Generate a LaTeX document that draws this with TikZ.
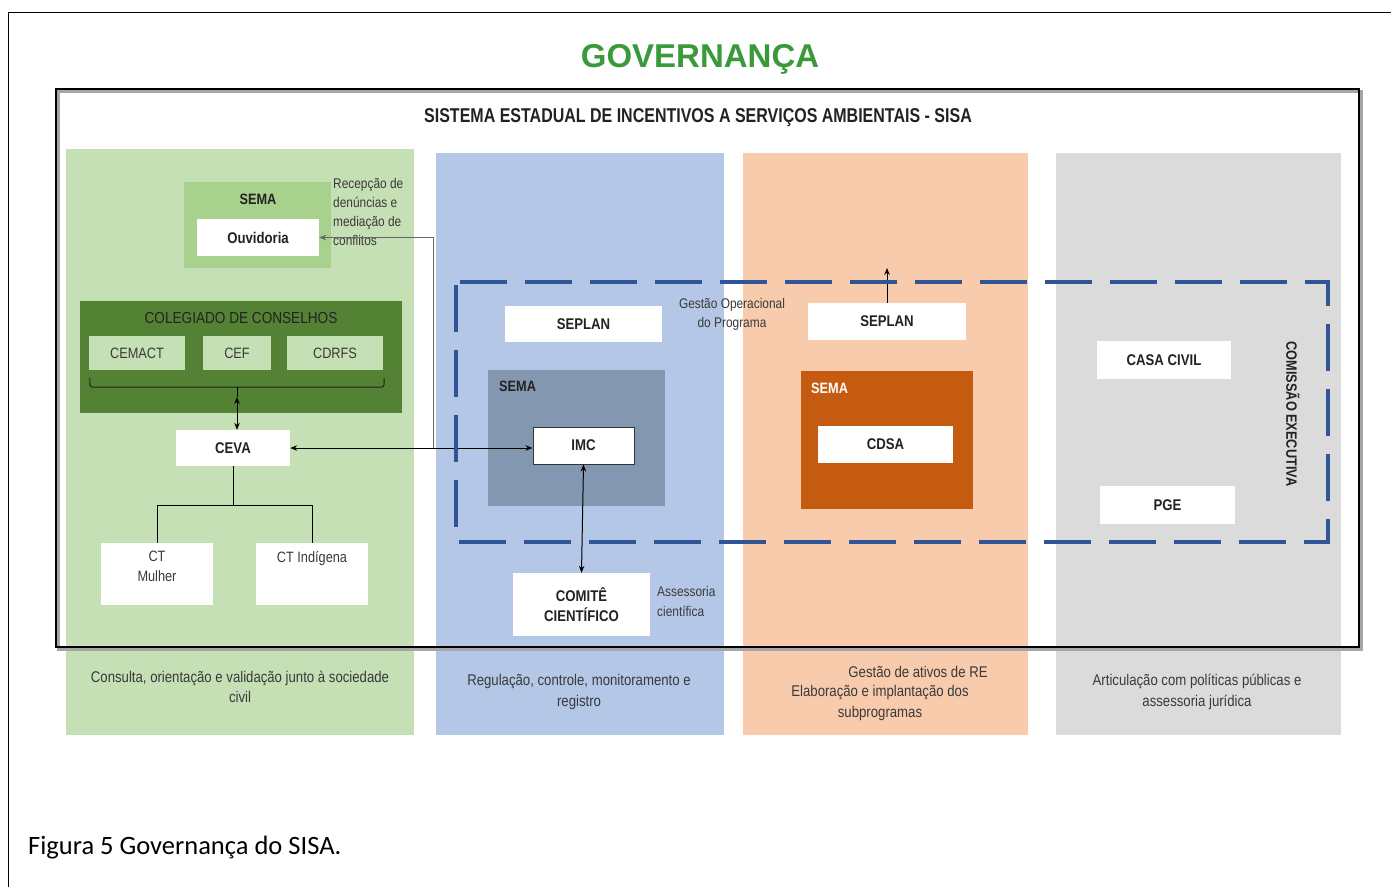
\documentclass[tikz,border=0pt]{standalone}
\usepackage{fontspec}
\setmainfont{Liberation Sans}
\newfontfamily\cnd[FakeStretch=0.85]{Liberation Sans}
\newfontfamily\cndt[FakeStretch=0.8]{Liberation Sans}
\newfontfamily\capfont{Carlito}
\usetikzlibrary{arrows.meta,calc}
\newcommand\myfs[2]{\fontsize{#1}{#2}\selectfont}
\definecolor{colG}{HTML}{C5E0B4}
\definecolor{colGm}{HTML}{A9D18E}
\definecolor{colGd}{HTML}{548235}
\definecolor{colB}{HTML}{B4C7E7}
\definecolor{colBd}{HTML}{8497B0}
\definecolor{colO}{HTML}{F8CBAD}
\definecolor{colOd}{HTML}{C55A11}
\definecolor{colGr}{HTML}{DBDBDB}
\definecolor{dashblue}{HTML}{2F5597}
\definecolor{titlegreen}{RGB}{58,154,58}
\definecolor{txt}{HTML}{222222}
\definecolor{txtl}{HTML}{3A3A3A}
\tikzset{
  colbox/.style={draw=none,inner sep=0pt},
  wbox/.style={fill=white,draw=none,inner sep=0pt,text=txt,font=\cnd\bfseries\myfs{15.5}{18},align=center},
  lbox/.style={fill=colG,draw=none,inner sep=0pt,text=txtl,font=\cnd\myfs{15}{18}},
  plain/.style={inner sep=0pt,text=txtl,font=\cnd\myfs{15}{20},align=center},
  lab/.style={inner sep=0pt,text=txt,font=\cnd\bfseries\myfs{15}{18}},
  conn/.style={line width=1pt,black},
  tip/.style={-{Stealth[length=7pt,width=5.5pt]}},
  tips/.style={{Stealth[length=7pt,width=5.5pt]}-{Stealth[length=7pt,width=5.5pt]}},
  dashrect/.style={draw=dashblue,line width=4.5pt,dash pattern=on 47pt off 18pt,dash phase=-3pt}
}
\begin{document}
\begin{tikzpicture}[x=1pt,y=-1pt]
\useasboundingbox (0,0) rectangle (1391,887);
\fill[white] (0,0) rectangle (1391,887);
% page border
\draw[line width=1pt] (8,887) -- (8,12) -- (1391,12);
% title
\node[inner sep=0pt,text=titlegreen,font=\bfseries\myfs{33}{40}] (title) at (700,59) {GOVERNANÇA};
% columns
\node[colbox,fill=colG,minimum width=348pt,minimum height=586pt] (cg) at (240,442) {};
\node[colbox,fill=colB,minimum width=288pt,minimum height=582pt] (cb) at (580,444) {};
\node[colbox,fill=colO,minimum width=285pt,minimum height=582pt] (co) at (885.5,444) {};
\node[colbox,fill=colGr,minimum width=285pt,minimum height=582pt] (cgr) at (1198.5,444) {};
% SISA frame
\draw[line width=3pt,black!35] (58.5,91.5) rectangle (1361.5,649.5);
\draw[line width=2.5pt,black] (56,89) rectangle (1359,647);
\node[inner sep=0pt,text=txt,font=\cndt\bfseries\myfs{20}{22}] (sisa) at (698,118) {SISTEMA ESTADUAL DE INCENTIVOS A SERVIÇOS AMBIENTAIS - SISA};
% green column
\node[colbox,fill=colGm,minimum width=147pt,minimum height=86pt] (semaG) at (257.5,225) {};
\node[lab] (semaGl) at (258,199) {SEMA};
\node[wbox,minimum width=122pt,minimum height=37pt] (ouv) at (258,237.5) {Ouvidoria};
\node[inner sep=0pt,anchor=north west,text=txtl,align=left,font=\cnd\myfs{14}{19}] (recep) at (333,178) {Recepção de\\denúncias e\\mediação de\\conflitos};
\node[colbox,fill=colGd,minimum width=322pt,minimum height=112pt] (coleg) at (241,357) {};
\node[inner sep=0pt,text=txt,font=\cnd\myfs{16}{18}] (colegl) at (241,318) {COLEGIADO DE CONSELHOS};
\node[lbox,minimum width=96pt,minimum height=34pt] (cemact) at (137,353) {CEMACT};
\node[lbox,minimum width=68pt,minimum height=34pt] (cef) at (237,353) {CEF};
\node[lbox,minimum width=96pt,minimum height=34pt] (cdrfs) at (335,353) {CDRFS};
\draw[line width=1pt,txt,rounded corners=3pt] ($(cemact.south west)+(1,8)$) coordinate (brl) -- ++(0,9) -- ($(cdrfs.south east)+(1,17)$) coordinate (brr) -- ++(0,-9);
\coordinate (brc) at (237,387);
\node[wbox,minimum width=114pt,minimum height=36pt] (ceva) at (233,448) {CEVA};
\draw[conn] (brc) -- (237,397) coordinate (brd);
\draw[conn,tips] (brd) -- (ceva.north -| brd);
\node[wbox,minimum width=112pt,minimum height=62pt] (ctm) at (157,574) {};
\node[plain,anchor=north] (ctml) at (157,551) {CT\\Mulher};
\node[wbox,minimum width=112pt,minimum height=62pt] (cti) at (312,574) {};
\node[plain,anchor=north] (ctil) at (312,551) {CT Indígena};
\draw[conn] (ceva.south) -- (233,505) coordinate (tj);
\draw[conn] (tj) -| (ctm.north);
\draw[conn] (tj) -| (cti.north);
\node[plain,font=\cnd\myfs{15.5}{20}] (gtxt) at (240,687) {Consulta, orientação e validação junto à sociedade\\civil};
% blue column
\node[wbox,minimum width=157pt,minimum height=36pt] (seplan1) at (583.5,324) {SEPLAN};
\node[colbox,fill=colBd,minimum width=177pt,minimum height=136pt] (semaB) at (576.5,438) {};
\node[lab,anchor=west] (semaBl) at (499,386) {SEMA};
\node[wbox,draw=black!80,line width=1pt,minimum width=101pt,minimum height=37pt] (imc) at (583.5,445.5) {IMC};
\node[wbox,minimum width=137pt,minimum height=63pt,font=\cnd\bfseries\myfs{15.5}{20}] (comite) at (581.5,604.5) {COMITÊ\\CIENTÍFICO};
\node[inner sep=0pt,anchor=west,text=txtl,align=left,font=\cnd\myfs{14}{20}] (assess) at (657,601) {Assessoria\\científica};
\draw[conn,tips] (imc.south) -- (comite.north);
\node[plain,font=\cnd\myfs{15.5}{21}] (btxt) at (579,691.5) {Regulação, controle, monitoramento e\\registro};
% connectors CEVA - IMC - Ouvidoria
\draw[conn,tips] (ceva.east) -- (ceva.east -| imc.west);
\coordinate (jo) at (433,448);
\draw[line width=1pt,black!60,tip] (jo) |- (ouv.east);
% gap text
\node[inner sep=0pt,text=txtl,align=center,font=\cnd\myfs{14}{19}] (gop) at (732,314) {Gestão Operacional\\do Programa};
% orange column
\node[wbox,minimum width=158pt,minimum height=37pt] (seplan2) at (887,321.5) {SEPLAN};
\coordinate (up) at (887,268);
\draw[conn,tip] (seplan2.north) -- (up);
\node[colbox,fill=colOd,minimum width=172pt,minimum height=138pt] (semaO) at (887,440) {};
\node[lab,anchor=west,text=white] (semaOl) at (811,388) {SEMA};
\node[wbox,minimum width=135pt,minimum height=37pt] (cdsa) at (885.5,444.5) {CDSA};
\node[inner sep=0pt,text=txtl,align=center,font=\cnd\myfs{15.5}{21}] (otxt1) at (918,672) {Gestão de ativos de RE};
\node[inner sep=0pt,text=txtl,align=center,font=\cnd\myfs{15.5}{21}] (otxt2) at (880,703) {Elaboração e implantação dos\\subprogramas};
% grey column
\node[wbox,minimum width=134pt,minimum height=38pt] (casa) at (1164,360) {CASA CIVIL};
\node[wbox,minimum width=135pt,minimum height=38pt] (pge) at (1167.5,505) {PGE};
\node[inner sep=0pt,rotate=-90,text=txt,font=\cnd\bfseries\myfs{15}{18}] (comex) at (1293,414) {COMISSÃO EXECUTIVA};
\node[plain,font=\cnd\myfs{15.5}{21}] (grtxt) at (1197,691.5) {Articulação com políticas públicas e\\assessoria jurídica};
% dashed commission frame
\draw[dashrect] (456,282) rectangle (1328,542);
% caption
\node[inner sep=0pt,anchor=west,font=\capfont\myfs{26.5}{30}] (cap) at (28,848) {Figura 5 Governança do SISA.};
\end{tikzpicture}
\end{document}
